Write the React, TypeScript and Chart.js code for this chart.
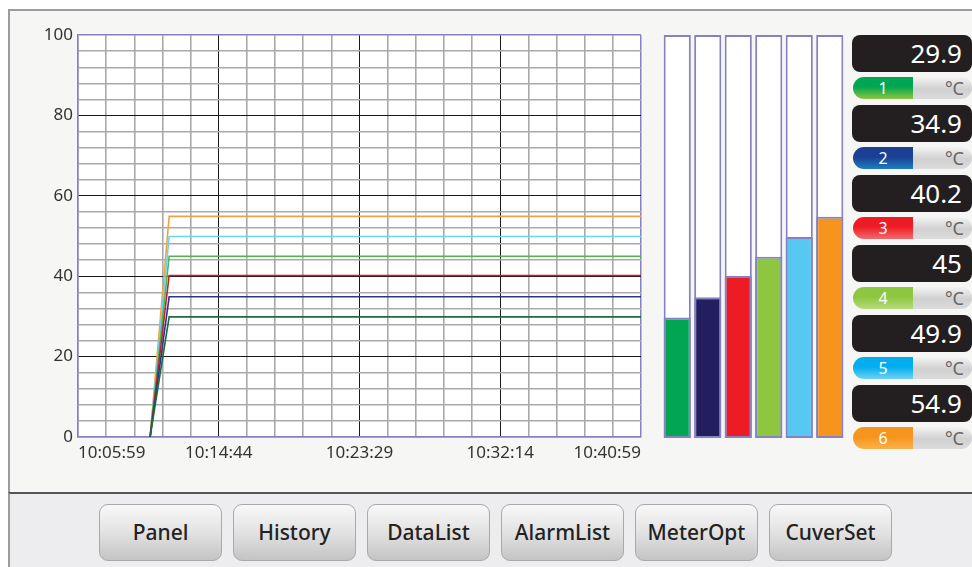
import React, { useEffect, useRef } from 'react';
import { Chart, registerables } from 'chart.js';
Chart.register(...registerables);

// ---- data ----
const timeLabels = ['10:05:59', '10:14:44', '10:23:29', '10:32:14', '10:40:59'];
const majorStepSec = 525;
const minorStepSec = 105;
const spanSec = 2100;
const rampStartSec = 269;
const rampEndSec = 340;
const channelNames = ['1', '2', '3', '4', '5', '6'];
const channelValues = [29.9, 34.9, 40.2, 45, 49.9, 54.9];
const yMin = 0;
const yMax = 100;
const yMajorStep = 20;
const yMinorStep = 4;
const unitLabel = '°C';
const buttonLabels = ['Panel', 'History', 'DataList', 'AlarmList', 'MeterOpt', 'CuverSet'];

// ---- styles ----
const FONT = '"Noto Sans", "Open Sans", sans-serif';
const lineColors = ['#1f6b3a', '#2a3592', '#c4202a', '#4cb84a', '#6cd2f5', '#f5a040'];
const barColors = ['#00a651', '#231f5e', '#ed1c24', '#8dc63f', '#56c8f2', '#f7941d'];
const pillTop = ['#00a651', '#1b3f93', '#ed1c24', '#8dc63f', '#00aeef', '#f7941d'];
const pillBottom = ['#8dc63f', '#1d7fc0', '#f26a6f', '#b5dc7a', '#6fd0f5', '#fbb24a'];
const PURPLE = '#8581c2';
const MINOR = '#a9a9a9';

const plotBg = {
  id: 'plotBg',
  beforeDraw(chart: any) {
    const { ctx, chartArea: a } = chart;
    ctx.save();
    ctx.fillStyle = '#ffffff';
    ctx.fillRect(a.left, a.top, a.right - a.left, a.bottom - a.top);
    ctx.restore();
  },
};

function LineChart() {
  const ref = useRef<HTMLCanvasElement>(null);
  useEffect(() => {
    const datasets = channelValues.map((v, i) => ({
      label: channelNames[i],
      data: [
        { x: rampStartSec, y: yMin },
        { x: rampEndSec, y: v },
        { x: spanSec, y: v },
      ],
      borderColor: lineColors[i],
      borderWidth: 1.6,
      pointRadius: 0,
      tension: 0,
      fill: false,
    }));
    const chart = new Chart(ref.current!, {
      type: 'line',
      data: { datasets },
      plugins: [plotBg],
      options: {
        animation: false,
        responsive: false,
        layout: { padding: { top: 15, right: 11, bottom: 13, left: 0 } },
        plugins: { legend: { display: false }, tooltip: { enabled: false } },
        scales: {
          x: {
            type: 'linear',
            min: 0,
            max: spanSec,
            afterFit: (s: any) => { s.height = 30; },
            border: { color: PURPLE, width: 1.5 },
            grid: {
              drawTicks: false,
              color: (c: any) => {
                const v = c.tick?.value ?? 0;
                if (v === 0 || v === spanSec) return PURPLE;
                return v % majorStepSec === 0 ? '#1a1a1a' : MINOR;
              },
              lineWidth: (c: any) => {
                const v = c.tick?.value ?? 0;
                if (v === 0 || v === spanSec) return 1.5;
                return v % majorStepSec === 0 ? 1 : 1.6;
              },
            },
            ticks: {
              stepSize: minorStepSec,
              autoSkip: false,
              maxRotation: 0,
              align: 'inner',
              padding: 6,
              color: '#333',
              font: { family: FONT, size: 17 },
              callback: (val: any) => {
                const v = Number(val);
                return v % majorStepSec === 0 ? timeLabels[v / majorStepSec] : '';
              },
            },
          },
          y: {
            min: yMin,
            max: yMax,
            afterFit: (s: any) => { s.width = 58; },
            border: { color: PURPLE, width: 1.5 },
            grid: {
              drawTicks: false,
              color: (c: any) => {
                const v = c.tick?.value ?? 0;
                if (v === yMin || v === yMax) return PURPLE;
                return v % yMajorStep === 0 ? '#1a1a1a' : MINOR;
              },
              lineWidth: (c: any) => {
                const v = c.tick?.value ?? 0;
                if (v === yMin || v === yMax) return 1.5;
                return v % yMajorStep === 0 ? 1 : 1.6;
              },
            },
            ticks: {
              stepSize: yMinorStep,
              autoSkip: false,
              padding: 5,
              color: '#333',
              font: { family: FONT, size: 17 },
              callback: (val: any) => {
                const v = Number(val);
                return v % yMajorStep === 0 ? String(v) : '';
              },
            },
          },
        },
      } as any,
    });
    return () => chart.destroy();
  }, []);
  return (
    <canvas
      ref={ref}
      width={632}
      height={460}
      style={{ position: 'absolute', left: 20, top: 20, width: 632, height: 460 }}
    />
  );
}

function BarChart() {
  const ref = useRef<HTMLCanvasElement>(null);
  useEffect(() => {
    const chart = new Chart(ref.current!, {
      type: 'bar',
      data: {
        labels: channelNames,
        datasets: [
          {
            data: channelValues,
            backgroundColor: barColors,
            borderColor: PURPLE,
            borderWidth: 2,
            borderSkipped: false,
            barPercentage: 0.89,
            categoryPercentage: 1,
            grouped: false,
            order: 0,
          },
          {
            data: channelNames.map(() => yMax),
            backgroundColor: '#ffffff',
            borderColor: PURPLE,
            borderWidth: 2,
            borderSkipped: false,
            barPercentage: 0.89,
            categoryPercentage: 1,
            grouped: false,
            order: 1,
          },
        ],
      },
      options: {
        animation: false,
        responsive: false,
        layout: { padding: { top: 10, right: 7, bottom: 7, left: 10 } },
        plugins: { legend: { display: false }, tooltip: { enabled: false } },
        scales: {
          x: { display: false },
          y: { display: false, min: yMin, max: yMax },
        },
      } as any,
    });
    return () => chart.destroy();
  }, []);
  return (
    <canvas
      ref={ref}
      width={200}
      height={420}
      style={{ position: 'absolute', left: 652, top: 25, width: 200, height: 420 }}
    />
  );
}

function Readouts() {
  return (
    <>
      {channelValues.map((v, i) => (
        <React.Fragment key={i}>
          <div
            style={{
              position: 'absolute',
              left: 852,
              top: 35 + i * 70,
              width: 120,
              height: 37,
              background: '#231f20',
              borderRadius: 8,
              color: '#fff',
              fontFamily: FONT,
              fontSize: 26,
              lineHeight: '37px',
              textAlign: 'right',
              paddingRight: 10,
              boxSizing: 'border-box',
            }}
          >
            {String(v)}
          </div>
          <div
            style={{
              position: 'absolute',
              left: 853,
              top: 77 + i * 70,
              width: 119,
              height: 22,
              borderRadius: 11,
              overflow: 'hidden',
              display: 'flex',
              fontFamily: FONT,
            }}
          >
            <div
              style={{
                width: 60,
                height: 22,
                background: `linear-gradient(to bottom, ${pillTop[i]} 0%, ${pillTop[i]} 45%, ${pillBottom[i]} 100%)`,
                color: '#fff',
                fontSize: 16,
                lineHeight: '22px',
                textAlign: 'center',
              }}
            >
              {channelNames[i]}
            </div>
            <div
              style={{
                flex: 1,
                height: 22,
                background: 'linear-gradient(to bottom, #f3f3f3 0%, #d0d0d0 55%, #dcdcdc 100%)',
                color: '#666',
                fontSize: 18,
                lineHeight: '22px',
                textAlign: 'right',
                paddingRight: 8,
              }}
            >
              {unitLabel}
            </div>
          </div>
        </React.Fragment>
      ))}
    </>
  );
}

function Buttons() {
  return (
    <>
      {buttonLabels.map((b, i) => (
        <div
          key={b}
          style={{
            position: 'absolute',
            left: 99 + i * 134,
            top: 504,
            width: 123,
            height: 57,
            boxSizing: 'border-box',
            border: '1px solid #a9a9a9',
            borderRadius: 9,
            background: 'linear-gradient(to bottom, #f8f8f8 0%, #e2e2e2 50%, #c4c4c4 100%)',
            color: '#222',
            fontFamily: FONT,
            fontSize: 21,
            fontWeight: 500,
            lineHeight: '55px',
            textAlign: 'center',
          }}
        >
          {b}
        </div>
      ))}
    </>
  );
}

export default function App() {
  return (
    <div
      style={{
        position: 'fixed',
        left: 0,
        top: 0,
        width: 972,
        height: 567,
        overflow: 'hidden',
        background: '#ffffff',
      }}
    >
      <div
        style={{
          position: 'absolute',
          left: 8,
          top: 9,
          width: 1000,
          height: 484,
          boxSizing: 'border-box',
          borderTop: '2px solid #9c9c9c',
          borderLeft: '2px solid #9c9c9c',
          background: '#f6f6f5',
        }}
      />
      <div
        style={{
          position: 'absolute',
          left: 8,
          top: 492,
          width: 1000,
          height: 100,
          boxSizing: 'border-box',
          borderTop: '2px solid #555',
          borderLeft: '2px solid #9c9c9c',
          background: '#ededf0',
        }}
      />
      <LineChart />
      <BarChart />
      <Readouts />
      <Buttons />
    </div>
  );
}
